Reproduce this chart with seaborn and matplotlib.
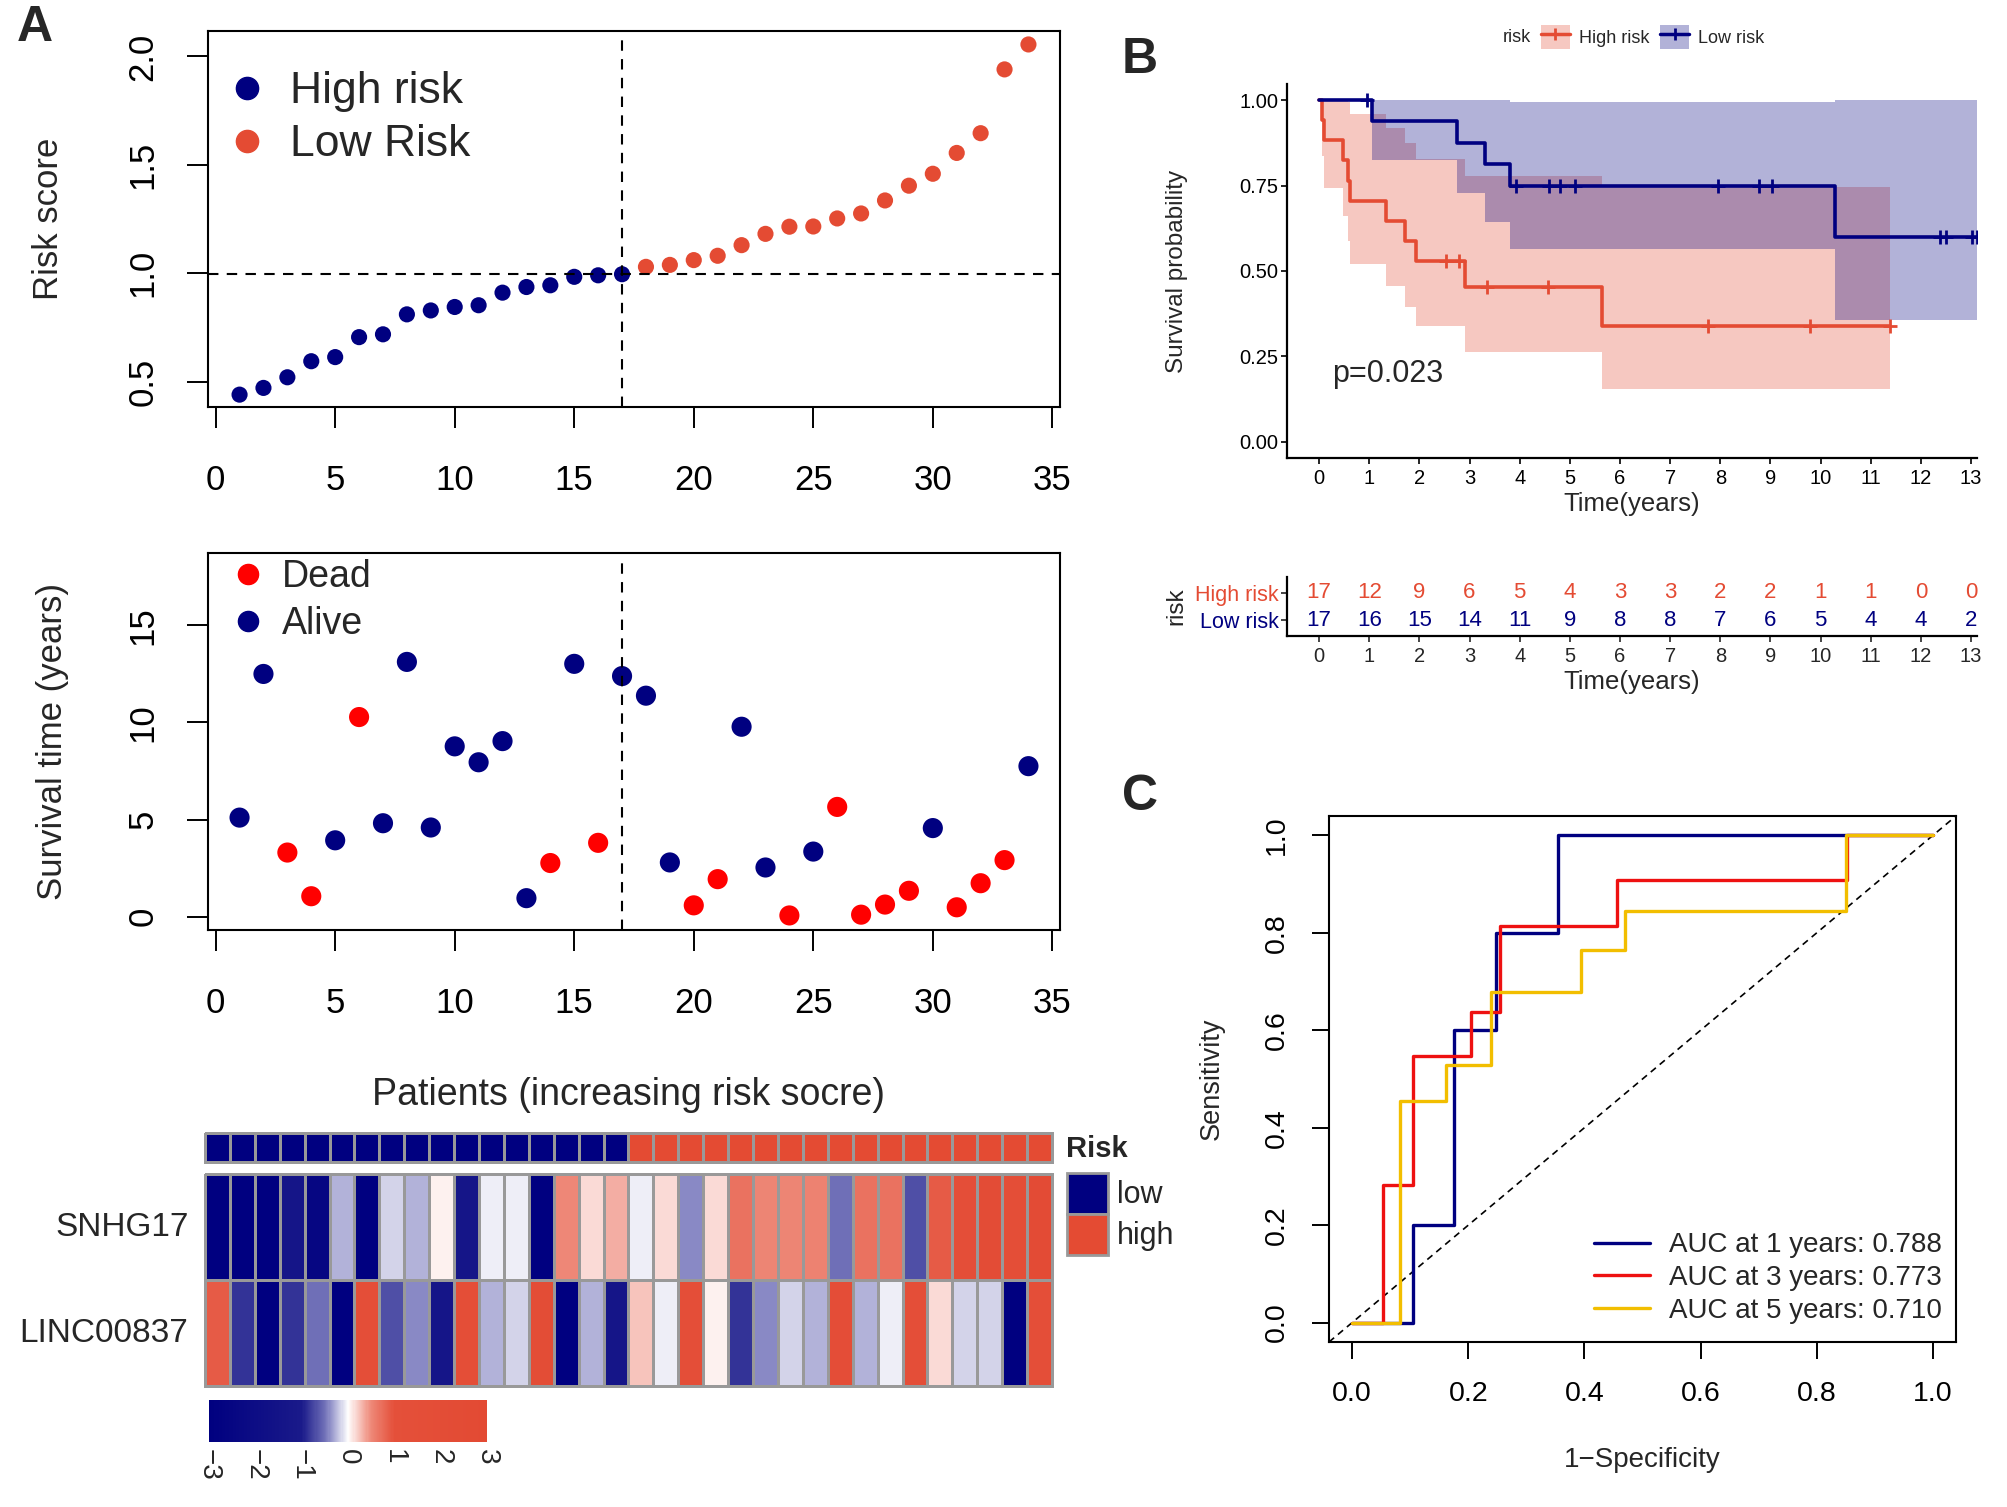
import numpy as np
import pandas as pd
import matplotlib
matplotlib.use("Agg")
import matplotlib.pyplot as plt
import seaborn as sns
from matplotlib.colors import LinearSegmentedColormap, ListedColormap
from matplotlib.lines import Line2D
from matplotlib.patches import Patch

# ---- data: 34 patients sorted by increasing risk score ----
risk_score = [0.441, 0.472, 0.521, 0.595, 0.614, 0.706, 0.719, 0.811, 0.829, 0.845,
              0.853, 0.911, 0.937, 0.945, 0.984, 0.991, 0.996, 1.030, 1.039, 1.061,
              1.081, 1.130, 1.182, 1.215, 1.216, 1.253, 1.276, 1.336, 1.404, 1.459,
              1.555, 1.646, 1.940, 2.055]
risk_group = ["low"] * 17 + ["high"] * 17
surv_time = [5.10, 12.50, 3.30, 1.05, 3.93, 10.28, 4.81, 13.12, 4.59, 8.77,
             7.95, 9.04, 0.95, 2.76, 13.02, 3.80, 12.39, 11.38, 2.79, 0.58,
             1.93, 9.78, 2.53, 0.06, 3.35, 5.65, 0.10, 0.62, 1.33, 4.56,
             0.48, 1.72, 2.91, 7.75]
status = [0, 0, 1, 1, 0, 1, 0, 0, 0, 0, 0, 0, 0, 1, 0, 1, 0,
          0, 0, 1, 1, 0, 0, 1, 0, 1, 1, 1, 1, 0, 1, 1, 1, 0]

genes = ["SNHG17", "LINC00837"]
snhg17 = [-3, -3, -3, -1.4, -2.5, -0.28, -3, -0.16, -0.28, 0.05, -1.4, -0.07, -0.07, -3,
          0.5, 0.15, 0.33, -0.07, 0.15, -0.4, 0.15, 0.7, 0.52, 0.52, 0.55, -0.5, 0.7,
          0.7, -0.7, 0.9, 1.6, 2.2, 1.8, 2.5]
linc00837 = [0.9, -0.86, -3, -0.86, -0.5, -3, 1.6, -0.7, -0.4, -1.4, 1.8, -0.28, -0.16,
             2.0, -3, -0.28, -1.4, 0.25, -0.07, 1.7, 0.05, -0.86, -0.4, -0.16, -0.28,
             1.9, -0.28, -0.07, 1.6, 0.15, -0.16, -0.16, -3, 1.5]

# ROC step vertices (false positive rate, true positive rate)
roc_1y_fpr = [0, 0.105, 0.105, 0.176, 0.176, 0.247, 0.247, 0.354, 0.354, 1.0]
roc_1y_tpr = [0, 0, 0.2, 0.2, 0.6, 0.6, 0.8, 0.8, 1.0, 1.0]
roc_3y_fpr = [0, 0.053, 0.053, 0.105, 0.105, 0.204, 0.204, 0.254, 0.254, 0.456, 0.456, 0.852, 0.852, 1.0]
roc_3y_tpr = [0, 0, 0.282, 0.282, 0.547, 0.547, 0.637, 0.637, 0.814, 0.814, 0.909, 0.909, 1.0, 1.0]
roc_5y_fpr = [0, 0.083, 0.083, 0.1615, 0.1615, 0.239, 0.239, 0.394, 0.394, 0.4706, 0.4706, 0.850, 0.850, 1.0]
roc_5y_tpr = [0, 0, 0.455, 0.455, 0.529, 0.529, 0.679, 0.679, 0.764, 0.764, 0.844, 0.844, 1.0, 1.0]
auc_labels = ["AUC at 1 years: 0.788", "AUC at 3 years: 0.773", "AUC at 5 years: 0.710"]
p_value = "p=0.023"

NAVY = "#000080"
RED = "#E44B33"
ROC_COLS = ["#000080", "#EE1111", "#F2BE00"]

sns.set_theme(style="white")
plt.rcParams["font.family"] = ["Liberation Sans", "DejaVu Sans"]
plt.rcParams["axes.linewidth"] = 1.5

W, H = 2008, 1507


def rect(l, t, r, b):
    return [l / W, 1 - b / H, (r - l) / W, (b - t) / H]


def r_style(ax, size, ylab):
    for s in ax.spines.values():
        s.set_color("black")
        s.set_linewidth(1.5)
    ax.tick_params(axis="both", direction="out", length=15, width=1.4, colors="black",
                   bottom=True, left=True, labelsize=size)
    ax.tick_params(axis="x", pad=26)
    ax.tick_params(axis="y", pad=20, labelrotation=90)
    for lbl in ax.get_yticklabels():
        lbl.set_va("center")
    ax.set_xlabel("")
    ax.set_ylabel(ylab, fontsize=size)


fig = plt.figure(figsize=(W / 100, H / 100), dpi=100)

n = len(risk_score)
idx = np.arange(1, n + 1)
n_low = risk_group.count("low")
df = pd.DataFrame({"patient": idx, "risk": risk_score, "group": risk_group,
                   "time": surv_time, "status": status})
df["state"] = np.where(df["status"] == 1, "Dead", "Alive")

# ---- A: risk score ----
ax1 = fig.add_axes(rect(208, 31, 1060, 407))
sns.scatterplot(data=df, x="patient", y="risk", hue="group",
                palette={"low": NAVY, "high": RED}, s=135, linewidth=0,
                legend=False, ax=ax1)
ax1.set_xlim(-0.32, 35.32)
ax1.set_ylim(0.384, 2.117)
ax1.axhline(risk_score[n_low - 1], color="black", lw=1.5, dashes=(5, 4))
ax1.axvline(n_low, ymax=0.98, color="black", lw=1.5, dashes=(5, 4))
ax1.set_xticks(range(0, 36, 5))
ax1.set_yticks([0.5, 1.0, 1.5, 2.0])
r_style(ax1, 25, "Risk score")
ax1.yaxis.set_label_coords(-0.168, 0.5)
h1 = [Line2D([], [], marker="o", ls="", color=NAVY, markersize=16),
      Line2D([], [], marker="o", ls="", color=RED, markersize=16)]
ax1.legend(h1, ["High risk", "Low Risk"], loc="upper left", bbox_to_anchor=(0.02, 0.893),
           frameon=False, fontsize=32, handlelength=1.0, handletextpad=0.46,
           labelspacing=0.27, borderpad=0, borderaxespad=0)

# ---- A: survival time ----
ax2 = fig.add_axes(rect(208, 553, 1060, 930))
sns.scatterplot(data=df, x="patient", y="time", hue="state",
                palette={"Dead": "#FF0000", "Alive": NAVY}, s=210, linewidth=0,
                legend=False, ax=ax2)
ax2.set_xlim(-0.32, 35.32)
ax2.set_ylim(-0.69, 18.73)
ax2.axvline(n_low, ymax=0.98, color="black", lw=1.5, dashes=(5, 4))
ax2.set_xticks(range(0, 36, 5))
ax2.set_yticks([0, 5, 10, 15])
r_style(ax2, 25, "Survival time (years)")
ax2.yaxis.set_label_coords(-0.163, 0.5)
h2 = [Line2D([], [], marker="o", ls="", color="#FF0000", markersize=14.5),
      Line2D([], [], marker="o", ls="", color=NAVY, markersize=14.5)]
ax2.legend(h2, ["Dead", "Alive"], loc="upper left", bbox_to_anchor=(0.025, 0.985),
           frameon=False, fontsize=27, handlelength=1.0, handletextpad=0.4,
           labelspacing=0.3, borderpad=0, borderaxespad=0)

# ---- A: heatmap ----
hm_cmap = LinearSegmentedColormap.from_list(
    "nwr", [(0.0, "#000080"), (0.333, "#1A1A8A"), (0.4167, "#7070B8"), (0.5, "#FFFFFF"),
            (0.583, "#EE8878"), (0.667, "#E4503A"), (1.0, "#E34A33")])
ax_ann = fig.add_axes(rect(205, 1133, 1052, 1162))
risk_code = np.array([[0 if g == "low" else 1 for g in risk_group]])
sns.heatmap(risk_code, cmap=ListedColormap([NAVY, RED]), cbar=False, linewidths=2,
            linecolor="#999999", xticklabels=False, yticklabels=False, ax=ax_ann)
ax_ann.collections[0].set_clip_on(False)

ax_hm = fig.add_axes(rect(205, 1174, 1052, 1386))
ax_cb = fig.add_axes(rect(209, 1400, 487, 1442))
expr = pd.DataFrame([snhg17, linc00837], index=genes, columns=idx)
sns.heatmap(expr, cmap=hm_cmap, vmin=-3, vmax=3, linewidths=2, linecolor="#999999",
            xticklabels=False, yticklabels=genes, ax=ax_hm, cbar_ax=ax_cb,
            cbar_kws={"orientation": "horizontal", "ticks": [-3, -2, -1, 0, 1, 2, 3]})
ax_hm.collections[0].set_clip_on(False)
ax_hm.tick_params(axis="y", left=False, pad=6, labelsize=24)
plt.setp(ax_hm.get_yticklabels(), rotation=0, va="center")
ax_hm.set_xlabel("")
ax_hm.set_title("Patients (increasing risk socre)", fontsize=27, pad=50)
cbar = ax_hm.collections[0].colorbar
cbar.outline.set_visible(False)
cbar.ax.tick_params(length=0, labelsize=20, pad=5)
plt.setp(cbar.ax.get_xticklabels(), rotation=270)
ax_hm.text(1.016, 1.119, "Risk", transform=ax_hm.transAxes, fontsize=21,
           fontweight="bold", ha="left", va="center")
ax_hm.legend([Patch(fc=NAVY, ec="#999999", lw=2), Patch(fc=RED, ec="#999999", lw=2)],
             ["low", "high"], loc="upper left", bbox_to_anchor=(1.018, 1.005),
             frameon=False, fontsize=22, handlelength=1.34, handleheight=1.68,
             labelspacing=0.0, handletextpad=0.3, borderpad=0, borderaxespad=0)


# ---- B: Kaplan-Meier ----
def km_curve(t, e):
    t = np.asarray(t, float)
    e = np.asarray(e)
    xs, ss, lo, hi = [0.0], [1.0], [1.0], [1.0]
    s, v = 1.0, 0.0
    for ut in np.unique(t[e == 1]):
        nr = (t >= ut).sum()
        d = ((t == ut) & (e == 1)).sum()
        s *= 1 - d / nr
        v += d / (nr * (nr - d))
        se = np.sqrt(v)
        xs.append(ut)
        ss.append(s)
        lo.append(s * np.exp(-1.96 * se))
        hi.append(min(1.0, s * np.exp(1.96 * se)))
    xs.append(t.max())
    ss.append(s)
    lo.append(lo[-1])
    hi.append(hi[-1])
    return np.array(xs), np.array(ss), np.array(lo), np.array(hi)


axk = fig.add_axes(rect(1287, 84, 1977, 458))
axt = fig.add_axes(rect(1287, 577, 1977, 636))
km_groups = [("High risk", "high", RED), ("Low risk", "low", NAVY)]
for label, g, col in km_groups:
    sub = df[df["group"] == g]
    xs, ss, lo, hi = km_curve(sub["time"], sub["status"])
    axk.fill_between(xs, lo, hi, step="post", color=col, alpha=0.3, lw=0)
for label, g, col in km_groups:
    sub = df[df["group"] == g]
    xs, ss, lo, hi = km_curve(sub["time"], sub["status"])
    axk.step(xs, ss, where="post", color=col, lw=2.6)
    cens = sub.loc[sub["status"] == 0, "time"].values
    cs = ss[np.searchsorted(xs[:-1], cens, side="right") - 1]
    axk.plot(cens, cs, ls="", marker="+", color=col, ms=10, mew=2)

axk.set_xlim(-0.64, 13.12)
axk.set_ylim(-0.047, 1.047)
axk.set_xticks(range(0, 14))
axk.set_yticks([0, 0.25, 0.5, 0.75, 1.0])
axk.set_yticklabels(["0.00", "0.25", "0.50", "0.75", "1.00"])
sns.despine(ax=axk)
for s in ["left", "bottom"]:
    axk.spines[s].set_color("black")
    axk.spines[s].set_linewidth(1.6)
axk.tick_params(direction="out", length=4, width=1.2, colors="black", bottom=True,
                left=True, labelsize=14.5, pad=2)
axk.tick_params(axis="x", pad=4)
axk.set_xlabel("Time(years)", fontsize=18.5)
axk.xaxis.set_label_coords(0.5, -0.092)
axk.set_ylabel("Survival probability", fontsize=17.5)
axk.yaxis.set_label_coords(-0.143, 0.5)
axk.text(0.26, 0.2, p_value, fontsize=22, ha="left", va="center")

fig.legend([(Patch(fc=RED, alpha=0.3, lw=0), Line2D([], [], color=RED, lw=2.5, marker="+", ms=9, mew=2)),
            (Patch(fc=NAVY, alpha=0.3, lw=0), Line2D([], [], color=NAVY, lw=2.5, marker="+", ms=9, mew=2))],
           ["High risk", "Low risk"], loc="center left", bbox_to_anchor=(1541 / W, 1 - 37 / H),
           ncol=2, frameon=False, fontsize=13, handlelength=1.6, handleheight=1.6,
           handletextpad=0.5, columnspacing=0.6, borderpad=0, borderaxespad=0)
fig.text(1531 / W, 1 - 37 / H, "risk", fontsize=13, ha="right", va="center")

# risk table
t_arr = np.asarray(surv_time)
for yrow, (label, g, col) in zip([2, 1], km_groups):
    tg = t_arr[np.array(risk_group) == g]
    for tt in range(0, 14):
        axt.text(tt, yrow, str((tg >= tt).sum()), color=col, fontsize=16,
                 ha="center", va="center")
axt.set_xlim(-0.64, 13.12)
axt.set_ylim(0.41, 2.59)
axt.set_xticks(range(0, 14))
axt.set_yticks([2, 1])
axt.set_yticklabels(["High risk", "Low risk"])
for lbl, (label, g, col) in zip(axt.get_yticklabels(), km_groups):
    lbl.set_color(col)
sns.despine(ax=axt)
for s in ["left", "bottom"]:
    axt.spines[s].set_color("black")
    axt.spines[s].set_linewidth(1.6)
axt.tick_params(direction="out", length=4, width=1.2, bottom=True, left=True,
                labelsize=14.5, pad=2)
axt.tick_params(axis="y", labelsize=15.5)
axt.tick_params(axis="x", pad=4)
axt.set_xlabel("Time(years)", fontsize=18.5)
axt.xaxis.set_label_coords(0.5, -0.58)
axt.set_ylabel("risk", fontsize=17.5)
axt.yaxis.set_label_coords(-0.145, 0.5)

# ---- C: time-dependent ROC ----
axr = fig.add_axes(rect(1329, 816, 1956, 1342))
axr.axline((0, 0), (1, 1), color="black", lw=1.2, dashes=(4, 3))
roc_sets = [(roc_1y_fpr, roc_1y_tpr), (roc_3y_fpr, roc_3y_tpr), (roc_5y_fpr, roc_5y_tpr)]
for (fx, fy), col, lab in zip(roc_sets, ROC_COLS, auc_labels):
    axr.plot(fx, fy, color=col, lw=2.4, label=lab)
axr.set_xlim(-0.04, 1.04)
axr.set_ylim(-0.04, 1.04)
axr.set_xticks(np.arange(0, 1.01, 0.2))
axr.set_yticks(np.arange(0, 1.01, 0.2))
axr.set_xticklabels([f"{v:.1f}" for v in np.arange(0, 1.01, 0.2)])
axr.set_yticklabels([f"{v:.1f}" for v in np.arange(0, 1.01, 0.2)])
r_style(axr, 20.5, "Sensitivity")
axr.tick_params(axis="both", length=12, pad=16)
axr.set_ylabel("Sensitivity", fontsize=19.5)
axr.yaxis.set_label_coords(-0.167, 0.5)
axr.set_xlabel("1\u2212Specificity", fontsize=20)
axr.xaxis.set_label_coords(0.5, -0.2)
axr.legend(loc="lower right", bbox_to_anchor=(0.978, 0.035), frameon=False, fontsize=20,
           handlelength=2.0, handletextpad=0.7, labelspacing=0.24, borderpad=0,
           borderaxespad=0)

# panel letters
for letter, x, y in [("A", 35, 28), ("B", 1140, 60), ("C", 1140, 797)]:
    fig.text(x / W, 1 - y / H, letter, fontsize=36, fontweight="bold", ha="center", va="center")

fig.savefig("out.png", dpi=100)
